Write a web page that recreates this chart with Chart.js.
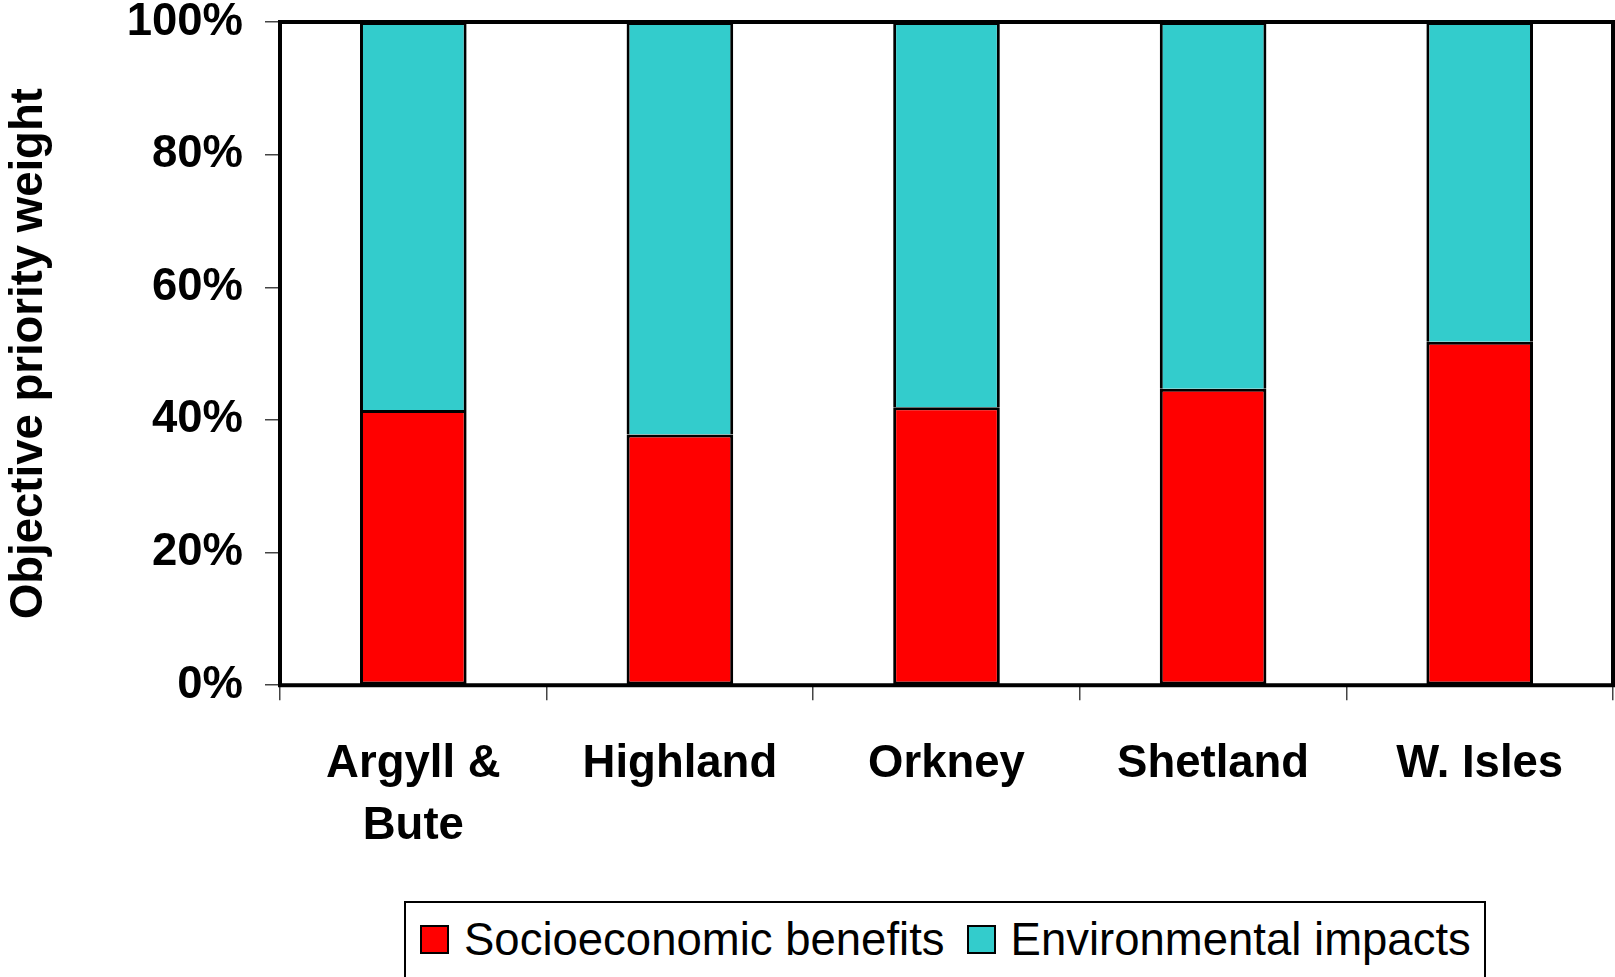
<!DOCTYPE html>
<html>
<head>
<meta charset="utf-8">
<script src="https://cdn.jsdelivr.net/npm/chart.js@4.4.1/dist/chart.umd.min.js"></script>
<style>
  html, body { margin: 0; padding: 0; background: #fff; overflow: hidden; }
  #wrap { position: relative; width: 1615px; height: 977px; }
  #chart { position: absolute; left: 0; top: 0; }
  #legend {
    position: absolute; left: 404px; top: 901px; width: 1082px; height: 100px;
    border: 2px solid #000; box-sizing: border-box; background: #fff;
    font-family: "Liberation Sans", Arial, sans-serif; font-size: 45.5px; color: #000;
    display: flex; align-items: flex-start; padding: 14px 0 0 14px;
  }
  .item { display: flex; align-items: center; white-space: nowrap; line-height: 1; }
  .item + .item { margin-left: 22px; }
  .swatch { width: 29px; height: 29px; border: 2.5px solid #000; box-sizing: border-box; margin-right: 15px; }
</style>
</head>
<body>
<div id="wrap">
  <canvas id="chart" width="1615" height="977"></canvas>
  <div id="legend"></div>
</div>
<script>
// Regions and their objective priority weights (percent of total)
const categories = [["Argyll &", "Bute"], "Highland", "Orkney", "Shetland", "W. Isles"];
const socioeconomic = [41.5, 37.8, 41.9, 44.7, 51.8];
const environmental = [58.5, 62.2, 58.1, 55.3, 48.2];
const seriesNames = ["Socioeconomic benefits", "Environmental impacts"];
const seriesColors = ["#FF0000", "#33CCCC"];
const yTickValues = [0, 20, 40, 60, 80, 100];

const boldFont = { family: "'Liberation Sans', Arial, sans-serif", size: 45.5, weight: "bold" };

// Shared bar styling: black outline, bars take 40% of each category slot
const barStyle = {
  borderColor: "#000",
  borderSkipped: false,
  barPercentage: 0.4,
  categoryPercentage: 1
};

// Heavy black frame around the plotting area
const framePlugin = {
  id: "frame",
  afterDatasetsDraw(chart) {
    const { ctx, chartArea: a } = chart;
    ctx.save();
    ctx.strokeStyle = "#000";
    ctx.lineWidth = 4;
    ctx.strokeRect(a.left, a.top, a.right - a.left, a.bottom - a.top);
    ctx.restore();
  }
};

const chart = new Chart(document.getElementById("chart"), {
  type: "bar",
  data: {
    labels: categories,
    datasets: [
      { label: seriesNames[0], data: socioeconomic, backgroundColor: seriesColors[0], ...barStyle,
        borderWidth: 3 },
      // upper segment: no bottom edge, so the shared boundary keeps a single outline
      { label: seriesNames[1], data: environmental, backgroundColor: seriesColors[1], ...barStyle,
        borderWidth: { top: 3, left: 3, right: 3, bottom: 0 } }
    ]
  },
  options: {
    responsive: false,
    animation: false,
    devicePixelRatio: 1,
    layout: { padding: { left: 0, right: 2, top: 0, bottom: 87 } },
    plugins: {
      legend: { display: false },
      tooltip: { enabled: false }
    },
    scales: {
      x: {
        stacked: true,
        border: { display: false },
        grid: { offset: true, drawOnChartArea: false, tickLength: 15, color: "#444", lineWidth: 1.5 },
        ticks: { color: "#000", font: { ...boldFont, lineHeight: 1.36 }, padding: 33, maxRotation: 0, autoSkip: false }
      },
      y: {
        stacked: true,
        min: 0,
        max: 100,
        border: { display: false },
        afterBuildTicks(scale) { scale.ticks = yTickValues.map(v => ({ value: v })); },
        afterFit(scale) {
          scale.width = 280;
          scale.paddingTop = 22;
          scale.paddingBottom = 0;
        },
        grid: { drawOnChartArea: false, tickLength: 15, color: "#444", lineWidth: 1.5 },
        ticks: { color: "#000", font: { ...boldFont, lineHeight: 1.0 }, padding: 22, callback: v => v + "%" },
        title: {
          display: true,
          text: "Objective priority weight",
          color: "#000",
          font: { ...boldFont, lineHeight: 1.2 },
          padding: { top: 2, bottom: 0 }
        }
      }
    }
  },
  plugins: [framePlugin]
});

// Legend built from the dataset definitions
const legend = document.getElementById("legend");
chart.data.datasets.forEach(ds => {
  const item = document.createElement("div");
  item.className = "item";
  const sw = document.createElement("span");
  sw.className = "swatch";
  sw.style.background = ds.backgroundColor;
  const txt = document.createElement("span");
  txt.textContent = ds.label;
  item.appendChild(sw);
  item.appendChild(txt);
  legend.appendChild(item);
});
</script>
</body>
</html>
